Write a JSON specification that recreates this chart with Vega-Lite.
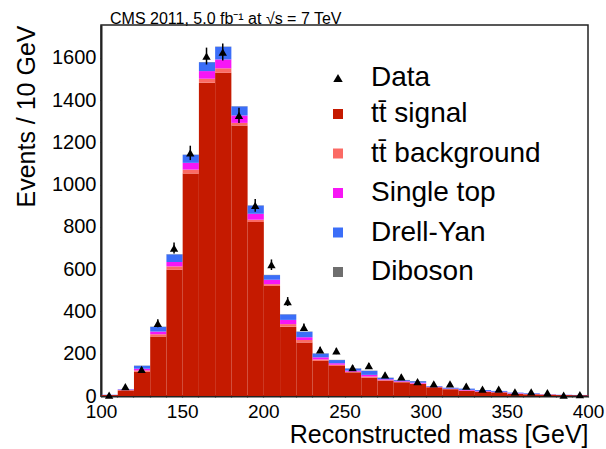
{
  "$schema": "https://vega.github.io/schema/vega-lite/v6.json",
  "width": 487,
  "height": 371,
  "autosize": {"type": "none"},
  "padding": {"left": 101, "top": 25, "right": 18, "bottom": 53},
  "background": "white",
  "config": {
    "font": "Liberation Sans",
    "view": {"stroke": "#222222", "strokeWidth": 1.5},
    "bar": {"binSpacing": 0},
    "axis": {"labelColor": "black", "titleColor": "black", "tickColor": "#333333", "domainColor": "#222222", "domainWidth": 2, "tickWidth": 1.2, "grid": false, "labelFontSize": 20, "titleFontSize": 25, "titleFontWeight": "normal", "labelOverlap": false, "labelBound": false, "labelFlush": false}
  },
  "title": {"text": "CMS 2011, 5.0 fb\u207b\u00b9 at \u221as = 7 TeV", "anchor": "start", "frame": "group", "dx": 9, "dy": 3, "fontSize": 16, "fontWeight": "normal", "offset": 1, "color": "black"},
  "datasets": {
    "procs": [
      {"key": "sig", "k": 1, "label": "tt\u0304 signal"},
      {"key": "bkg", "k": 2, "label": "tt\u0304 background"},
      {"key": "st", "k": 3, "label": "Single top"},
      {"key": "dy", "k": 4, "label": "Drell-Yan"},
      {"key": "db", "k": 5, "label": "Diboson"}
    ],
    "mc": [
      {"x": 100, "sig": 4, "bkg": 0.5, "st": 0.5, "dy": 1, "db": 0},
      {"x": 110, "sig": 26, "bkg": 2, "st": 2, "dy": 2, "db": 0},
      {"x": 120, "sig": 115, "bkg": 6, "st": 8, "dy": 14, "db": 1},
      {"x": 130, "sig": 281, "bkg": 11, "st": 13, "dy": 22, "db": 1},
      {"x": 140, "sig": 597, "bkg": 16, "st": 21, "dy": 36, "db": 1},
      {"x": 150, "sig": 1052, "bkg": 19, "st": 32, "dy": 38, "db": 1},
      {"x": 160, "sig": 1482, "bkg": 19, "st": 36, "dy": 42, "db": 1},
      {"x": 170, "sig": 1529, "bkg": 21, "st": 42, "dy": 60, "db": 1},
      {"x": 180, "sig": 1280, "bkg": 12, "st": 35, "dy": 43, "db": 1},
      {"x": 190, "sig": 823, "bkg": 11, "st": 28, "dy": 39, "db": 1},
      {"x": 200, "sig": 521, "bkg": 8, "st": 21, "dy": 22, "db": 1},
      {"x": 210, "sig": 328, "bkg": 12, "st": 20, "dy": 26, "db": 1},
      {"x": 220, "sig": 253, "bkg": 12, "st": 13, "dy": 26, "db": 1},
      {"x": 230, "sig": 166, "bkg": 7, "st": 10, "dy": 18, "db": 1},
      {"x": 240, "sig": 142, "bkg": 6, "st": 7, "dy": 15, "db": 1},
      {"x": 250, "sig": 112, "bkg": 3, "st": 5, "dy": 10, "db": 1},
      {"x": 260, "sig": 87, "bkg": 5, "st": 8, "dy": 19, "db": 1},
      {"x": 270, "sig": 73, "bkg": 2, "st": 4, "dy": 7, "db": 1},
      {"x": 280, "sig": 65, "bkg": 2, "st": 3, "dy": 5, "db": 1},
      {"x": 290, "sig": 57, "bkg": 2, "st": 4, "dy": 7, "db": 1},
      {"x": 300, "sig": 41, "bkg": 1, "st": 2, "dy": 3, "db": 0},
      {"x": 310, "sig": 32, "bkg": 1, "st": 2, "dy": 4, "db": 0},
      {"x": 320, "sig": 25, "bkg": 1, "st": 3, "dy": 6, "db": 0},
      {"x": 330, "sig": 20, "bkg": 1, "st": 2, "dy": 5, "db": 0},
      {"x": 340, "sig": 17, "bkg": 1, "st": 2, "dy": 4, "db": 0},
      {"x": 350, "sig": 10, "bkg": 1, "st": 2, "dy": 3, "db": 0},
      {"x": 360, "sig": 8, "bkg": 1, "st": 1, "dy": 3, "db": 0},
      {"x": 370, "sig": 6, "bkg": 1, "st": 1, "dy": 1, "db": 0},
      {"x": 380, "sig": 4, "bkg": 0.5, "st": 0.5, "dy": 1, "db": 0},
      {"x": 390, "sig": 3, "bkg": 0.5, "st": 0.5, "dy": 1, "db": 0}
    ],
    "obs": [
      {"xc": 105, "n": 4, "e": 2},
      {"xc": 115, "n": 44, "e": 7},
      {"xc": 125, "n": 126, "e": 11},
      {"xc": 135, "n": 344, "e": 19},
      {"xc": 145, "n": 700, "e": 26},
      {"xc": 155, "n": 1150, "e": 34},
      {"xc": 165, "n": 1608, "e": 40},
      {"xc": 175, "n": 1627, "e": 40},
      {"xc": 185, "n": 1327, "e": 36},
      {"xc": 195, "n": 902, "e": 30},
      {"xc": 205, "n": 621, "e": 25},
      {"xc": 215, "n": 447, "e": 21},
      {"xc": 225, "n": 325, "e": 18},
      {"xc": 235, "n": 218, "e": 15},
      {"xc": 245, "n": 213, "e": 15},
      {"xc": 255, "n": 134, "e": 12},
      {"xc": 265, "n": 144, "e": 12},
      {"xc": 275, "n": 100, "e": 10},
      {"xc": 285, "n": 91, "e": 10},
      {"xc": 295, "n": 68, "e": 8},
      {"xc": 305, "n": 57, "e": 8},
      {"xc": 315, "n": 57, "e": 8},
      {"xc": 325, "n": 47, "e": 7},
      {"xc": 335, "n": 33, "e": 6},
      {"xc": 345, "n": 32, "e": 6},
      {"xc": 355, "n": 20, "e": 4},
      {"xc": 365, "n": 20, "e": 4},
      {"xc": 375, "n": 16, "e": 4},
      {"xc": 385, "n": 4, "e": 2},
      {"xc": 395, "n": 6, "e": 2}
    ]
  },
  "layer": [
    {
      "data": {"name": "mc"},
      "transform": [
        {"fold": ["sig", "bkg", "st", "dy", "db"], "as": ["key", "n"]},
        {"lookup": "key", "from": {"data": {"name": "procs"}, "key": "key", "fields": ["k", "label"]}}
      ],
      "mark": {"type": "bar", "binSpacing": 0},
      "encoding": {
        "x": {"field": "x", "type": "quantitative", "bin": {"binned": true, "step": 10}, "title": "Reconstructed mass [GeV]",
          "scale": {"domain": [100, 400], "nice": false, "zero": false},
          "axis": {"title": "Reconstructed mass [GeV]", "titleAnchor": "end", "titlePadding": 1, "labelPadding": 5, "labelFontSize": 19, "tickSize": 1, "format": "d",
            "values": [100,110,120,130,140,150,160,170,180,190,200,210,220,230,240,250,260,270,280,290,300,310,320,330,340,350,360,370,380,390,400],
            "labelExpr": "datum.value % 50 === 0 ? datum.label : ''",
            "encode": {"ticks": {"update": {"y2": {"signal": "datum.value % 50 === 0 ? -13 : -7"}}}}}},
        "y": {"field": "n", "type": "quantitative", "stack": "zero", "title": "Events / 10 GeV",
          "scale": {"domain": [0, 1755], "nice": false},
          "axis": {"title": "Events / 10 GeV", "titleAnchor": "end", "titlePadding": 12, "labelPadding": 4, "tickSize": 1, "format": "d",
            "values": [0,50,100,150,200,250,300,350,400,450,500,550,600,650,700,750,800,850,900,950,1000,1050,1100,1150,1200,1250,1300,1350,1400,1450,1500,1550,1600,1650,1700,1750],
            "labelExpr": "datum.value % 200 === 0 ? datum.label : ''",
            "encode": {"ticks": {"update": {"x2": {"signal": "datum.value % 200 === 0 ? 13 : 7"}}}}}},
        "color": {"field": "label", "type": "nominal",
          "scale": {"domain": ["tt\u0304 signal", "tt\u0304 background", "Single top", "Drell-Yan", "Diboson"], "range": ["#c51a00", "#fb6a64", "#f716f5", "#3b6ef8", "#6e6e6e"]},
          "legend": {"title": null, "orient": "none", "legendX": 223, "legendY": 75, "padding": 0, "symbolType": "square", "symbolSize": 100, "symbolStrokeWidth": 0, "labelFontSize": 28, "labelColor": "black", "labelOffset": 19, "labelLimit": 400, "rowPadding": 11.5}},
        "order": {"field": "k", "type": "quantitative"}
      }
    },
    {
      "data": {"name": "obs"},
      "mark": {"type": "errorbar", "ticks": false, "color": "black", "thickness": 1.5},
      "encoding": {
        "x": {"field": "xc", "type": "quantitative", "title": "Reconstructed mass [GeV]"},
        "y": {"field": "n", "type": "quantitative", "title": "Events / 10 GeV"},
        "yError": {"field": "e"}
      }
    },
    {
      "data": {"name": "obs"},
      "mark": {"type": "point", "filled": true, "color": "black", "opacity": 1, "size": 70},
      "encoding": {
        "x": {"field": "xc", "type": "quantitative", "title": "Reconstructed mass [GeV]"},
        "y": {"field": "n", "type": "quantitative", "title": "Events / 10 GeV"},
        "shape": {"datum": "Data", "scale": {"range": ["triangle-up"]},
          "legend": {"title": null, "orient": "none", "legendX": 223, "legendY": 39, "padding": 0, "symbolSize": 90, "symbolFillColor": "black", "symbolStrokeColor": "black", "labelFontSize": 28, "labelColor": "black", "labelOffset": 19, "labelLimit": 400}}
      }
    }
  ]
}
